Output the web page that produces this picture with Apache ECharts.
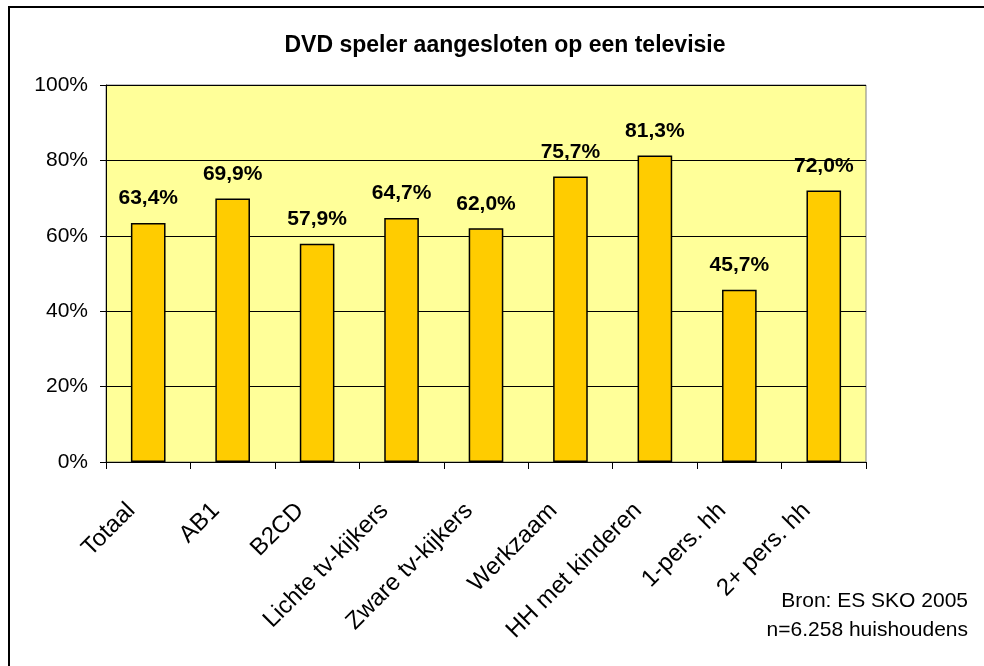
<!DOCTYPE html>
<html>
<head>
<meta charset="utf-8">
<script src="https://cdn.jsdelivr.net/npm/echarts@6/dist/echarts.min.js"></script>
<style>
  html, body { margin: 0; padding: 0; background: #fff; }
  #chart { width: 984px; height: 666px; }
</style>
</head>
<body>
<div id="chart"></div>
<script>
// data
var categories = ['Totaal', 'AB1', 'B2CD', 'Lichte tv-kijkers', 'Zware tv-kijkers',
    'Werkzaam', 'HH met kinderen', '1-pers. hh', '2+ pers. hh'];
var values = [63.4, 69.9, 57.9, 64.7, 62.0, 75.7, 81.3, 45.7, 72.0];
var yTicks = [0, 20, 40, 60, 80, 100];

var myChart = echarts.init(document.getElementById('chart'));
var font = 'Liberation Sans, Arial, sans-serif';

option = {
    backgroundColor: '#fff',
    animation: false,
    title: {
        text: 'DVD speler aangesloten op een televisie',
        left: 500,
        textAlign: 'center',
        top: 29,
        textStyle: {fontFamily: font, fontSize: 23, fontWeight: 'bold', color: '#000'}
    },
    grid: {
        left: 106, right: 118, top: 85, bottom: 204,
        show: true,
        backgroundColor: '#FFFF99',
        borderColor: '#808080',
        borderWidth: 1
    },
    xAxis: {
        type: 'category',
        data: categories,
        axisLine: {show: true, lineStyle: {color: '#000', width: 1}},
        axisTick: {show: true, length: 7, lineStyle: {color: '#000'}},
        axisLabel: {
            rotate: 45,
            interval: 0,
            margin: 28,
            padding: [0, 24, 0, 0],
            fontFamily: font,
            fontSize: 24,
            color: '#000'
        }
    },
    yAxis: {
        type: 'value',
        min: yTicks[0],
        max: yTicks[yTicks.length - 1],
        interval: 20,
        axisLine: {show: true, lineStyle: {color: '#000', width: 1}},
        axisTick: {show: true, length: 6, lineStyle: {color: '#000'}},
        splitLine: {show: true, lineStyle: {color: '#000', width: 1}},
        axisLabel: {
            formatter: '{value}%',
            margin: 18,
            fontFamily: font,
            fontSize: 21,
            color: '#000'
        }
    },
    series: [{
        type: 'bar',
        data: values,
        barWidth: '41%',
        itemStyle: {color: '#FFCC00', borderColor: '#000', borderWidth: 1.5},
        label: {
            show: true,
            position: 'top',
            distance: 14,
            fontFamily: font,
            fontSize: 21,
            fontWeight: 'bold',
            color: '#000',
            formatter: function (p) {
                return p.value.toFixed(1).replace('.', ',') + '%';
            }
        }
    }],
    graphic: [
        {
            type: 'rect',
            shape: {x: 9, y: 7, width: 1000, height: 700},
            style: {fill: null, stroke: '#000', lineWidth: 2},
            silent: true
        },
        {
            type: 'text',
            right: 16,
            top: 587,
            style: {
                text: 'Bron: ES SKO 2005\nn=6.258 huishoudens',
                textAlign: 'right',
                font: '21px ' + font,
                lineHeight: 29,
                fill: '#000'
            }
        }
    ]
};

myChart.setOption(option);
</script>
</body>
</html>
